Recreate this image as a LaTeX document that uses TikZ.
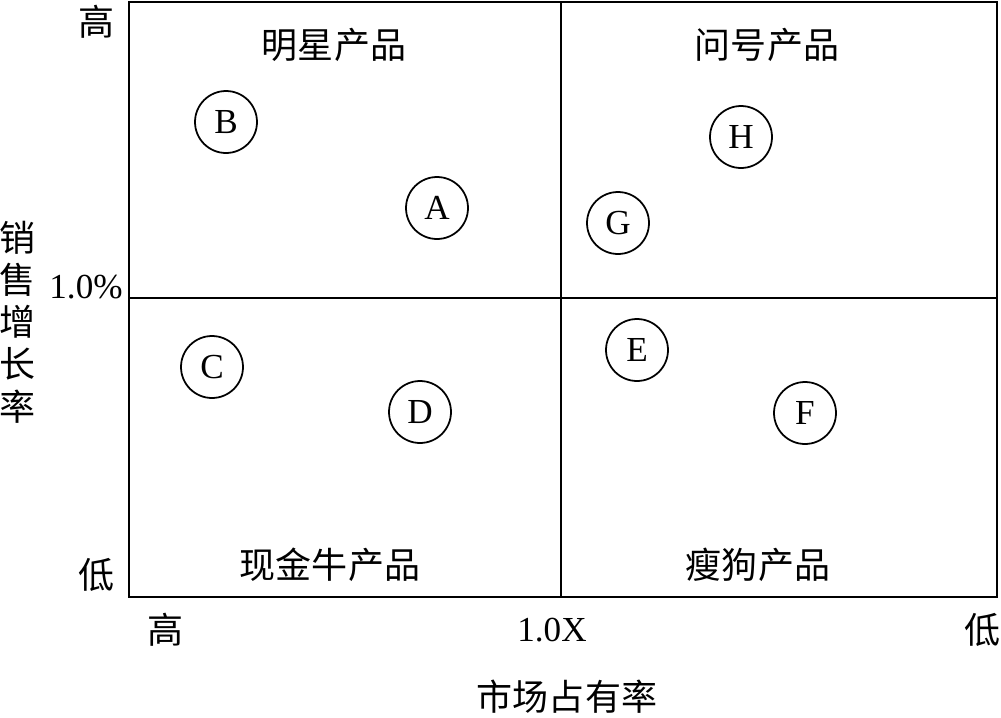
\documentclass[tikz,border=0pt]{standalone}
\usepackage{fontspec}
\setmainfont{Liberation Serif}
\newfontfamily\cjk{Noto Sans CJK SC}
\usetikzlibrary{calc, positioning}
\tikzset{
  prod/.style={draw, circle, line width=1pt, minimum size=1.24cm, inner sep=0pt, font=\fontsize{20}{22}\selectfont},
  lbl/.style={font=\cjk\fontsize{20.5}{22}\selectfont, inner sep=0pt},
  num/.style={font=\fontsize{20}{22}\selectfont, inner sep=0pt}
}
\begin{document}
\begin{tikzpicture}[x={(0.02cm,0)}, y={(0,-0.02cm)}]
        \useasboundingbox (0,0) rectangle (1001,717);

        \coordinate (tl) at (129,2);
        \coordinate (br) at (997,597);
        \coordinate (top) at (561,2);
        \coordinate (bot) at (561,597);
        \coordinate (lft) at (129,298);
        \coordinate (rgt) at (997,298);

        \draw[line width=1.3pt] (tl) rectangle (br);
        \draw[line width=0.9pt] (top) -- (bot);
        \draw[line width=0.9pt] (lft) -- (rgt);

        % quadrant names
        \node[lbl] (star) at (334,45) {明星产品};
        \node[lbl] (quest) at (767,45) {问号产品};
        \node[lbl] (cow) at (330,565) {现金牛产品};
        \node[lbl] (dog) at (758,565) {瘦狗产品};

        % products
        \node[prod] (B) at (226,122) {B};
        \node[prod] (A) at (437,208) {A};
        \node[prod] (H) at (741,137) {H};
        \node[prod] (G) at (618,223) {G};
        \node[prod] (C) at (212,367) {C};
        \node[prod] (D) at (420,412) {D};
        \node[prod] (E) at (637,350) {E};
        \node[prod] (F) at (805,413) {F};

        % vertical axis
        \node[lbl] (yhi) at (97,22) {高};
        \node[num] (ymid) at (86,287) {1.0\%};
        \node[lbl] (ylo) at (97,575) {低};
        \node[lbl, align=center, font=\cjk\fontsize{20.5}{24}\selectfont] (ytitle) at (18,322) {销\\售\\增\\长\\率};

        % horizontal axis
        \node[lbl] (xhi) at (166,630) {高};
        \node[num] (xmid) at (552,630) {1.0X};
        \node[lbl] (xlo) at (982,630) {低};
        \node[lbl] (xtitle) at (567,697) {市场占有率};
\end{tikzpicture}
\end{document}
